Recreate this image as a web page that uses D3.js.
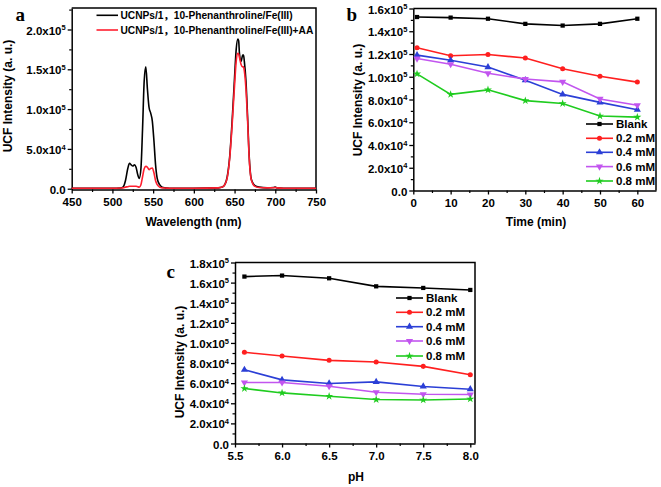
<!DOCTYPE html>
<html><head><meta charset="utf-8">
<script src="https://cdn.jsdelivr.net/npm/d3@7"></script>
<style>
body{margin:0;background:#fff;}
svg{display:block;font-family:"Liberation Sans",Arial,"Noto Sans CJK SC",sans-serif;font-weight:bold;}
</style></head><body>
<svg id="chart" width="661" height="487"></svg>
<script>
// ---------- Panel a data (emission spectra) ----------
const wavelength = [450,500,510,513,516,519,521,523,525,527,529,531,533,535,537,539,541,543,545,547,549,551,553,555,558,561,565,570,600,630,635,638,641,644,647,650,652,654,655,656,658,660,661,662,664,666,668,670,672,675,680,690,698,700,702,710,750];
const spectrumFe = [0.5,0.5,0.8,2,10,26,32,30,28.5,30,27,18,13,25,75,135,153,125,102,95,85,60,30,13,5,2,1,0.5,0.5,1,2,5,15,40,85,140,175,188,186,170,160,168,168,160,135,90,40,15,8,4,2,1,1.5,2,1,0.5,0.5].map(v=>v*1000);
const spectrumFeAA = [0.5,0.5,0.8,1,2,2.5,3,3,3,3,3,2.5,2,5,15,25,28,27,24,25.5,26,20,10,5,2,1,0.8,0.5,0.5,1,2,5,14,38,80,130,160,170,169,165,156,153,153,148,125,85,38,14,7,3,1.5,1,1.2,1.5,1,0.5,0.5].map(v=>v*1000);
const legendA = ["UCNPs/1，10-Phenanthroline/Fe(III)","UCNPs/1，10-Phenanthroline/Fe(III)+AA"];
const ticksAX = [450,500,550,600,650,700,750];
const ticksAY = [0,50000,100000,150000,200000];

// ---------- Panel b data (time) ----------
const times = [1,10,20,30,40,50,60];
const timeBlank = [152500,152000,151000,146500,145000,146500,151000];
const time02 = [125500,118500,119500,116500,107000,100500,95300];
const time04 = [119000,114500,108500,97000,84500,77500,71000];
const time06 = [116000,111000,103000,98000,95500,80500,75000];
const time08 = [102500,84500,88500,79000,76500,65500,64500];
const ticksBX = [0,10,20,30,40,50,60];
const ticksBY = [0,20000,40000,60000,80000,100000,120000,140000,160000];

// ---------- Panel c data (pH) ----------
const pHs = [5.6,6.0,6.5,7.0,7.5,8.0];
const pHBlank = [166000,167000,164300,156300,154700,152700];
const pH02 = [90700,87000,82700,81000,76700,68300];
const pH04 = [73300,63300,59700,61300,56700,54000];
const pH06 = [60700,60700,57000,51000,49000,48700];
const pH08 = [54700,50300,47000,43700,43300,44300];
const ticksCX = [5.5,6.0,6.5,7.0,7.5,8.0];
const ticksCY = [0,20000,40000,60000,80000,100000,120000,140000,160000,180000];

const seriesNames = ["Blank","0.2 mM","0.4 mM","0.6 mM","0.8 mM"];
const seriesColors = ["#000000","#ff1f1f","#2b3fd6","#c255ef","#1fcc1f"];
const seriesSymbols = [d3.symbolSquare,d3.symbolCircle,d3.symbolTriangle,"down",d3.symbolStar];

const svg = d3.select("#chart");

function sciFmt(v){
  if(v===0) return "0.0";
  const e = Math.floor(Math.log10(v)+1e-9);
  const m = v/Math.pow(10,e);
  return m.toFixed(1)+"x10^"+e;
}
function supLabels(sel){
  sel.selectAll(".tick text").each(function(){
    const t=d3.select(this), s=t.text();
    if(s.indexOf("^")>=0){
      const [a,b]=s.split("^");
      t.text(a);
      t.append("tspan").attr("font-size","7.5px").attr("dy","-4.5").text(b);
    }
  });
}

function frame(x,y,opt){
  const g = svg.append("g");
  const [x0,x1]=x.range(), [y0,y1]=y.range();
  g.append("path").attr("d",`M${x0},${y1}H${x1}V${y0}`).attr("fill","none").attr("stroke","#000").attr("stroke-width",1.5);
  g.append("g").attr("transform",`translate(0,${y0})`)
    .call(d3.axisBottom(x).tickValues(opt.minorX).tickSize(2.5).tickSizeOuter(0).tickFormat(""))
    .call(s=>{s.select(".domain").remove();s.selectAll("line").attr("stroke-width",1.2);});
  g.append("g").attr("transform",`translate(${x0},0)`)
    .call(d3.axisLeft(y).tickValues(opt.minorY).tickSize(2.5).tickSizeOuter(0).tickFormat(""))
    .call(s=>{s.select(".domain").remove();s.selectAll("line").attr("stroke-width",1.2);});
  const ax = g.append("g").attr("transform",`translate(0,${y0})`)
    .call(d3.axisBottom(x).tickValues(opt.ticksX).tickSize(4).tickSizeOuter(0).tickPadding(4).tickFormat(opt.fmtX));
  const ay = g.append("g").attr("transform",`translate(${x0},0)`)
    .call(d3.axisLeft(y).tickValues(opt.ticksY).tickSize(4).tickSizeOuter(0).tickPadding(2).tickFormat(sciFmt));
  [ax,ay].forEach(a=>{
    a.attr("font-family",null).attr("font-size",null);
    a.selectAll("text").attr("font-size","11.5px").attr("fill","#000");
    a.select(".domain").attr("stroke-width",1.5);
    a.selectAll(".tick line").attr("stroke-width",1.3);
  });
  ay.selectAll(".tick text").attr("dy","0.4em");
  supLabels(ay);
  svg.append("text").attr("x",opt.xt[0]).attr("y",opt.xt[1]).attr("text-anchor","middle").attr("font-size","12px").text(opt.xTitle);
  svg.append("text").attr("transform",`translate(${opt.yt[0]},${opt.yt[1]}) rotate(-90)`).attr("dy","0.36em").attr("text-anchor","middle").attr("font-size","12px").text("UCF Intensity (a. u.)");
  svg.append("text").attr("x",opt.letter[0]).attr("y",opt.letter[1]).attr("font-family","'Liberation Serif','Times New Roman',serif").attr("font-weight","bold").attr("font-size","19px").text(opt.letterText);
}

function symbolPath(sym,size){
  if(sym==="down") return d3.symbol(d3.symbolTriangle,size)();
  return d3.symbol(sym,size)();
}
function symbolTransform(sym,x,y){ return `translate(${x},${y})`+(sym==="down"?" rotate(180)":""); }
const symSizes=[18,20,22,22,20];

function linePanel(x,y,xs,seriesArr,legendPos){
  const line=d3.line().x((d,i)=>x(xs[i])).y(d=>y(d));
  seriesArr.forEach((vals,k)=>{
    svg.append("path").datum(vals).attr("d",line).attr("fill","none").attr("stroke",seriesColors[k]).attr("stroke-width",1.6);
    svg.append("g").selectAll("path").data(vals).join("path")
      .attr("d",symbolPath(seriesSymbols[k],symSizes[k]))
      .attr("transform",(d,i)=>symbolTransform(seriesSymbols[k],x(xs[i]),y(d)))
      .attr("fill",seriesColors[k]);
  });
  const [lx0,lx1,tx,ys]=legendPos;
  seriesNames.forEach((n,k)=>{
    svg.append("line").attr("x1",lx0).attr("x2",lx1).attr("y1",ys[k]).attr("y2",ys[k]).attr("stroke",seriesColors[k]).attr("stroke-width",1.6);
    svg.append("path").attr("d",symbolPath(seriesSymbols[k],symSizes[k])).attr("transform",symbolTransform(seriesSymbols[k],(lx0+lx1)/2,ys[k])).attr("fill",seriesColors[k]);
    svg.append("text").attr("x",tx).attr("y",ys[k]).attr("dy","0.36em").attr("font-size","11.5px").text(n);
  });
}

// ---------- Panel a ----------
{
  const x=d3.scaleLinear().domain([450,750]).range([71.7,316]);
  const y=d3.scaleLinear().domain([-1000,227000]).range([189.5,8]);
  frame(x,y,{ticksX:ticksAX,ticksY:ticksAY,minorX:d3.range(475,750,50),minorY:d3.range(25000,227000,50000),
    fmtX:d3.format("d"),xTitle:"Wavelength (nm)",xt:[193.5,226],yt:[7.5,96],letter:[15.5,21],letterText:"a"});
  const line=d3.line().x((d,i)=>x(wavelength[i])).y(d=>y(d)).curve(d3.curveMonotoneX);
  svg.append("path").datum(spectrumFe).attr("d",line).attr("fill","none").attr("stroke","#000").attr("stroke-width",1.6);
  svg.append("path").datum(spectrumFeAA).attr("d",line).attr("fill","none").attr("stroke","#ff1f2f").attr("stroke-width",1.6);
  const cols=["#000","#ff1f2f"], ly=[15.3,30];
  legendA.forEach((t,k)=>{
    svg.append("line").attr("x1",96.5).attr("x2",118).attr("y1",ly[k]).attr("y2",ly[k]).attr("stroke",cols[k]).attr("stroke-width",1.6);
    svg.append("text").attr("x",120.5).attr("y",ly[k]).attr("dy","0.36em").attr("font-size","10.2px").text(t);
  });
}

// ---------- Panel b ----------
{
  const x=d3.scaleLinear().domain([0,65]).range([413.3,656]);
  const y=d3.scaleLinear().domain([0,160000]).range([190.5,8.5]);
  frame(x,y,{ticksX:ticksBX,ticksY:ticksBY,minorX:d3.range(5,65,10),minorY:d3.range(10000,160000,20000),
    fmtX:d3.format("d"),xTitle:"Time (min)",xt:[536,226],yt:[358,100],letter:[346.5,21],letterText:"b"});
  linePanel(x,y,times,[timeBlank,time02,time04,time06,time08],[586,613,616,[124,138.3,152.3,166.6,181]]);
}

// ---------- Panel c ----------
{
  const x=d3.scaleLinear().domain([5.5,8.05]).range([235,475]);
  const y=d3.scaleLinear().domain([0,180000]).range([443.5,262.5]);
  frame(x,y,{ticksX:ticksCX,ticksY:ticksCY,minorX:d3.range(5.75,8.05,0.5),minorY:d3.range(10000,180000,20000),
    fmtX:d3.format(".1f"),xTitle:"pH",xt:[356,481],yt:[179.5,362],letter:[166.5,277.5],letterText:"c"});
  linePanel(x,y,pHs,[pHBlank,pH02,pH04,pH06,pH08],[396,423,426,[298,312.3,326.7,341,356]]);
}
</script>
</body></html>
